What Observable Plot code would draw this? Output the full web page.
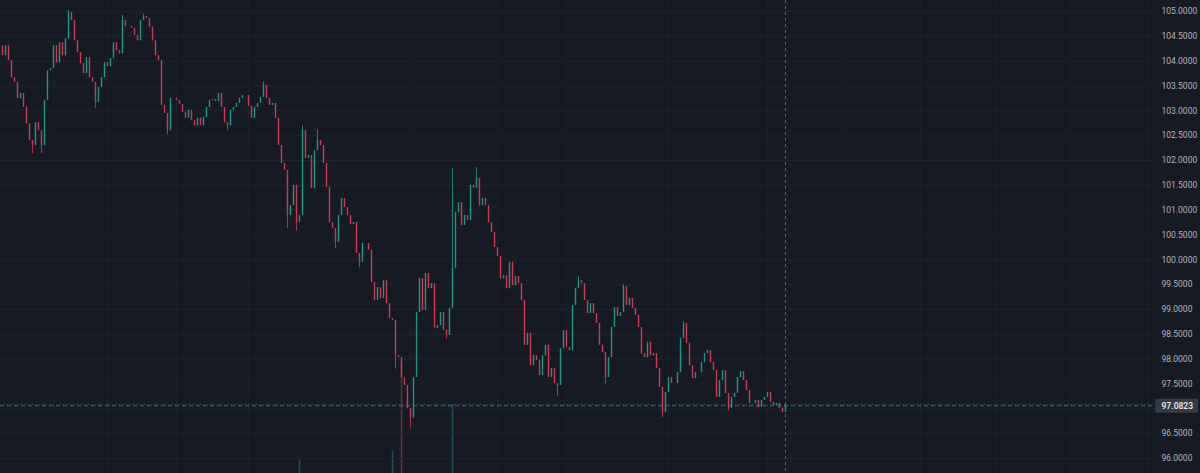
<!DOCTYPE html>
<html><head><meta charset="utf-8">
<script src="https://cdn.jsdelivr.net/npm/d3@7"></script>
<script src="https://cdn.jsdelivr.net/npm/@observablehq/plot@0.6"></script>
<style>
html,body{margin:0;padding:0;background:#161a25;}
#wrap{position:relative;width:1200px;height:473px;overflow:hidden;background:#161a25;}
#wrap svg{position:absolute;left:0;top:0;}
</style></head><body><div id="wrap"></div>
<script>
// ---- data ----
const firstOpen = 104.30;
const close = [
104.11,104.31,104.01,103.67,103.57,103.25,103.35,103.07,102.74,102.40,
102.30,102.76,102.60,102.30,103.21,103.81,103.85,104.31,103.97,104.37,
104.11,104.45,104.98,104.82,104.41,104.17,103.95,103.75,104.07,103.67,
103.57,103.17,103.47,103.67,103.97,103.89,104.05,104.37,104.21,104.15,
104.82,104.70,104.70,104.66,104.52,104.41,104.82,104.90,104.86,104.68,
104.41,104.11,104.01,103.11,102.95,102.60,103.25,103.25,103.21,103.13,
102.97,102.85,103.01,102.80,102.70,102.85,102.70,102.87,103.07,103.21,
103.23,103.19,103.35,103.07,102.76,102.70,103.01,103.07,103.15,103.25,
103.31,103.31,103.09,102.85,103.07,103.15,103.27,103.51,103.25,103.11,
103.15,102.85,102.30,101.94,101.80,100.89,101.09,101.50,100.75,100.89,
102.60,102.04,102.10,101.44,102.20,102.40,102.30,101.94,101.46,100.75,
100.63,100.35,100.89,101.23,101.05,100.89,100.71,100.75,100.13,99.95,
100.33,100.33,100.19,99.54,99.18,99.44,99.22,99.58,99.12,98.82,
98.78,98.07,98.03,97.63,97.47,97.01,96.81,97.63,98.94,99.62,
98.98,99.72,99.42,99.52,98.62,98.68,98.94,98.58,98.48,99.02,
99.83,100.95,101.15,100.69,100.89,100.79,101.50,101.44,101.64,101.09,
101.23,101.09,100.75,100.55,100.25,100.07,99.62,99.68,99.42,99.95,
99.48,99.66,99.52,99.18,98.28,98.52,97.87,98.07,97.97,97.67,
98.07,98.28,97.63,97.81,97.51,97.47,98.21,98.58,98.24,98.17,
99.08,99.42,99.58,99.52,99.18,98.92,99.12,98.92,98.72,98.28,
98.13,97.63,98.03,98.64,99.04,98.86,98.94,99.46,99.08,99.22,
99.02,98.88,98.64,98.11,98.03,98.34,98.07,98.11,97.81,97.43,
96.93,97.33,97.63,97.51,97.51,97.73,98.42,98.72,98.32,97.87,
97.61,97.73,97.73,97.93,98.11,98.17,97.93,97.77,97.23,97.57,
97.77,97.31,97.01,97.23,97.31,97.63,97.75,97.57,97.37,97.11,
97.11,97.17,97.03,97.17,97.23,97.33,97.13,97.07,97.11,97.01,
96.93,97.0823
];
// notable wick extremes: [candle index, price]
const wickHigh = [[22,105.02],[40,104.92],[47,104.95],[87,103.58],[100,102.70],[105,102.62],[150,101.84],[158,101.86],[192,99.66],[207,99.50],[227,98.76]];
const wickLow = [[10,102.14],[13,102.14],[31,103.05],[55,102.52],[75,102.60],[95,100.63],[98,100.58],[111,100.22],[119,99.84],[131,97.80],[136,96.62],[148,98.40],[185,97.25],[201,97.50],[220,96.82],[242,96.96]];
// visible volume bars
const volIndex = [99, 130, 133, 150];
const volume = [13, 22, 110, 69];
const volUp = [true, true, false, true];
const lastPrice = 97.0823;
const yTickLabels = [96,96.5,97.5,98,98.5,99,99.5,100,100.5,101,101.5,102,102.5,103,103.5,104,104.5,105];
const yGridLevels = [96,96.5,97,97.5,98,98.5,99,99.5,100,100.5,101,101.5,102,102.5,103,103.5,104,104.5,105];
const xGridIndex = [17,35,58,82,105,136,165,188,222,255,280,306,331,356,382];

// ---- layout ----
const W = 1200, H = 473, MR = 45;
const xDomain = [-0.6667, 384.333];
const yDomain = [95.6986, 105.2215];
const UP = "#1f9c87", DOWN = "#d93a50";

const hiMap = new Map(wickHigh), loMap = new Map(wickLow);
const candles = close.map((c, i) => {
  const o = i ? close[i - 1] : firstOpen;
  const h = Math.max(o, c, hiMap.has(i) ? hiMap.get(i) : -Infinity);
  const l = Math.min(o, c, loMap.has(i) ? loMap.get(i) : Infinity);
  return {i, o, c, h, l, up: c >= o};
});
const upC = candles.filter(d => d.up), dnC = candles.filter(d => !d.up);
const vols = volIndex.map((i, k) => ({i, v: volume[k], up: volUp[k]}));

const volPlot = Plot.plot({
  width: W, height: H, marginTop: 0, marginBottom: 0, marginLeft: 0, marginRight: MR,
  style: {background: "transparent"},
  x: {domain: xDomain, axis: null},
  y: {domain: [0, 473], axis: null},
  marks: [
    Plot.ruleX(vols.filter(d => d.up), {x: "i", y1: 0, y2: "v", stroke: "#26a69a", strokeOpacity: 0.4, strokeWidth: 1.5}),
    Plot.ruleX(vols.filter(d => !d.up), {x: "i", y1: 0, y2: "v", stroke: "#ef5350", strokeOpacity: 0.4, strokeWidth: 1.5})
  ]
});

const main = Plot.plot({
  width: W, height: H, marginTop: 0, marginBottom: 0, marginLeft: 0, marginRight: MR,
  style: {background: "transparent", color: "#b2b5be", fontFamily: "Roboto, 'Liberation Sans', sans-serif", fontSize: "8.5px"},
  x: {domain: xDomain, axis: null},
  y: {domain: yDomain, axis: null},
  marks: [
    Plot.gridY(yGridLevels, {stroke: "#1f2331", strokeOpacity: 1}),
    Plot.gridX(xGridIndex, {stroke: "#1c202c", strokeOpacity: 1}),
    Plot.ruleY([lastPrice], {stroke: "#26a69a", strokeOpacity: 0.5, strokeDasharray: "1.5,2"}),
    Plot.ruleY([lastPrice], {stroke: "#787b86", strokeOpacity: 0.7, strokeDasharray: "4,3", dy: 1}),
    Plot.ruleX([close.length - 1], {stroke: "#787b86", strokeOpacity: 0.7, strokeDasharray: "3,3"}),
    Plot.ruleX(upC, {x: "i", y1: "l", y2: "h", stroke: UP, strokeWidth: 1, strokeOpacity: 0.8}),
    Plot.ruleX(dnC, {x: "i", y1: "l", y2: "h", stroke: DOWN, strokeWidth: 1, strokeOpacity: 0.8}),
    Plot.ruleX(upC, {x: "i", y1: "o", y2: "c", stroke: UP, strokeWidth: 1.5, strokeOpacity: 0.8}),
    Plot.ruleX(dnC, {x: "i", y1: "o", y2: "c", stroke: DOWN, strokeWidth: 1.5, strokeOpacity: 0.8}),
    Plot.axisY(yTickLabels, {anchor: "right", tickSize: 0, tickPadding: 6, tickFormat: d => d.toFixed(4), fill: "#b2b5be", fontSize: 8.5}),
    Plot.ruleY([lastPrice], {x1: 384.4, x2: 398.7, stroke: "#363a45", strokeWidth: 14, dy: 1}),
    Plot.text([lastPrice], {y: d => d, frameAnchor: "right", dx: 6, dy: 1, textAnchor: "start", text: d => d.toFixed(4), fill: "#e6e8ee", fontSize: 8.5, fontWeight: 600})
  ]
});

const wrap = document.getElementById("wrap");
wrap.appendChild(volPlot);
wrap.appendChild(main);
</script>
</body></html>
